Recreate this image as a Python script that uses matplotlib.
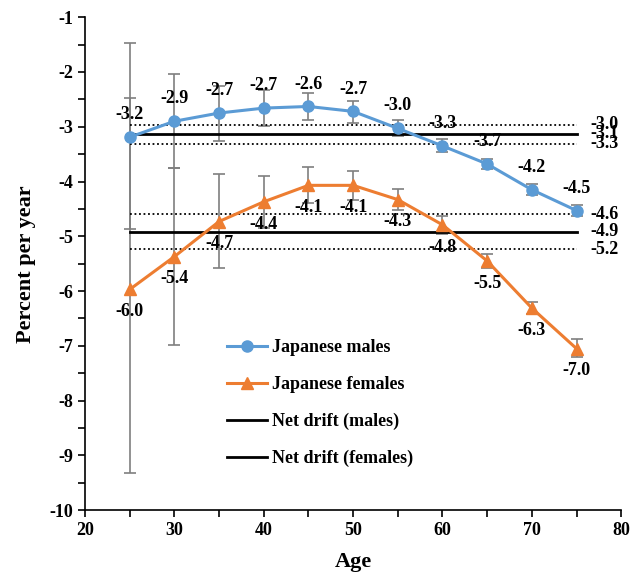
import matplotlib
matplotlib.use("Agg")
import matplotlib.pyplot as plt
import numpy as np

ages = [25, 30, 35, 40, 45, 50, 55, 60, 65, 70, 75]
male = [-3.19, -2.90, -2.75, -2.66, -2.63, -2.72, -3.03, -3.35, -3.68, -4.15, -4.53]
male_lo = [-4.87, -3.76, -3.26, -2.98, -2.87, -2.93, -3.17, -3.46, -3.78, -4.25, -4.63]
male_hi = [-1.47, -2.03, -2.25, -2.33, -2.38, -2.53, -2.88, -3.23, -3.58, -4.05, -4.43]
female = [-5.97, -5.37, -4.73, -4.37, -4.07, -4.07, -4.33, -4.79, -5.45, -6.31, -7.05]
female_lo = [-9.32, -6.98, -5.57, -4.84, -4.40, -4.33, -4.52, -4.95, -5.58, -6.42, -7.20]
female_hi = [-2.47, -3.76, -3.87, -3.90, -3.74, -3.81, -4.14, -4.63, -5.32, -6.20, -6.88]
male_labels = ["-3.2", "-2.9", "-2.7", "-2.7", "-2.6", "-2.7", "-3.0", "-3.3", "-3.7", "-4.2", "-4.5"]
female_labels = ["-6.0", "-5.4", "-4.7", "-4.4", "-4.1", "-4.1", "-4.3", "-4.8", "-5.5", "-6.3", "-7.0"]
drift_m = -3.13
drift_m_ci = [-2.96, -3.31]
drift_f = -4.92
drift_f_ci = [-4.60, -5.24]
drift_m_labels = ["-3.0", "-3.1", "-3.3"]
drift_f_labels = ["-4.6", "-4.9", "-5.2"]

plt.rcParams['font.family'] = ['Liberation Serif', 'DejaVu Serif']
plt.rcParams['font.weight'] = 'bold'
plt.rcParams['axes.unicode_minus'] = False

fig = plt.figure(figsize=(6.3, 5.72), dpi=100)
ax = fig.add_axes([0.135, 0.108, 0.851, 0.862])

blue = '#5B9BD5'
orange = '#ED7D31'
gray = '#7F7F7F'

m = np.array(male); f = np.array(female)
ax.errorbar(ages, m, yerr=[m - np.array(male_lo), np.array(male_hi) - m], fmt='none',
            ecolor=gray, elinewidth=1.2, capsize=4, capthick=1.2, zorder=2)
ax.errorbar(ages, f, yerr=[f - np.array(female_lo), np.array(female_hi) - f], fmt='none',
            ecolor=gray, elinewidth=1.2, capsize=4, capthick=1.2, zorder=2)

ax.plot(ages, male, color=blue, lw=2.2, marker='o', ms=8, label='Japanese males', zorder=4)
ax.plot(ages, female, color=orange, lw=2.2, marker='^', ms=8, label='Japanese females', zorder=4)

x0, x1 = ages[0], ages[-1]
ax.plot([x0, x1], [drift_m, drift_m], color='black', lw=2, label='Net drift (males)', zorder=3)
ax.plot([x0, x1], [drift_f, drift_f], color='black', lw=2, label='Net drift (females)', zorder=3)
for v in drift_m_ci + drift_f_ci:
    ax.plot([x0, x1], [v, v], color='black', lw=1.3, ls=(0, (1, 1.5)), zorder=3)

fs = 13
for a, v, t in zip(ages, male, male_labels):
    ax.annotate(t, (a, v), xytext=(0, 10), textcoords='offset points', ha='center', va='bottom',
                fontsize=fs, fontweight='bold', zorder=5)
for a, v, t in zip(ages, female, female_labels):
    ax.annotate(t, (a, v), xytext=(0, -10), textcoords='offset points', ha='center', va='top',
                fontsize=fs, fontweight='bold', zorder=5)

for v, t in zip([drift_m_ci[0], drift_m, drift_m_ci[1]], drift_m_labels):
    ax.text(76.6, v, t, ha='left', va='center', fontsize=fs, fontweight='bold')
for v, t in zip([drift_f_ci[0], drift_f, drift_f_ci[1]], drift_f_labels):
    ax.text(76.6, v, t, ha='left', va='center', fontsize=fs, fontweight='bold')

ax.set_xlim(20, 80)
ax.set_ylim(-10, -1)
ax.set_xticks(range(20, 81, 10))
ax.set_xticks(range(25, 80, 10), minor=True)
ax.set_yticks(range(-10, 0))
ax.set_yticks(np.arange(-9.5, -1, 1.0), minor=True)
ax.tick_params(axis='both', which='major', direction='out', length=5, width=1.2, labelsize=13)
ax.tick_params(axis='both', which='minor', direction='out', length=5, width=1.2)
for lab in ax.get_xticklabels() + ax.get_yticklabels():
    lab.set_fontweight('bold')
for s in ['top', 'right']:
    ax.spines[s].set_visible(False)
for s in ['left', 'bottom']:
    ax.spines[s].set_linewidth(1.2)

ax.set_xlabel('Age', fontsize=16, fontweight='bold', labelpad=9)
ax.set_ylabel('Percent per year', fontsize=16, fontweight='bold', labelpad=10)

leg = ax.legend(loc='upper left', bbox_to_anchor=(0.235, 0.38), frameon=False,
                labelspacing=1.1, handlelength=2.2, handletextpad=0.25,
                prop={'size': 13, 'weight': 'bold'})

fig.savefig('out.png', dpi=100)
